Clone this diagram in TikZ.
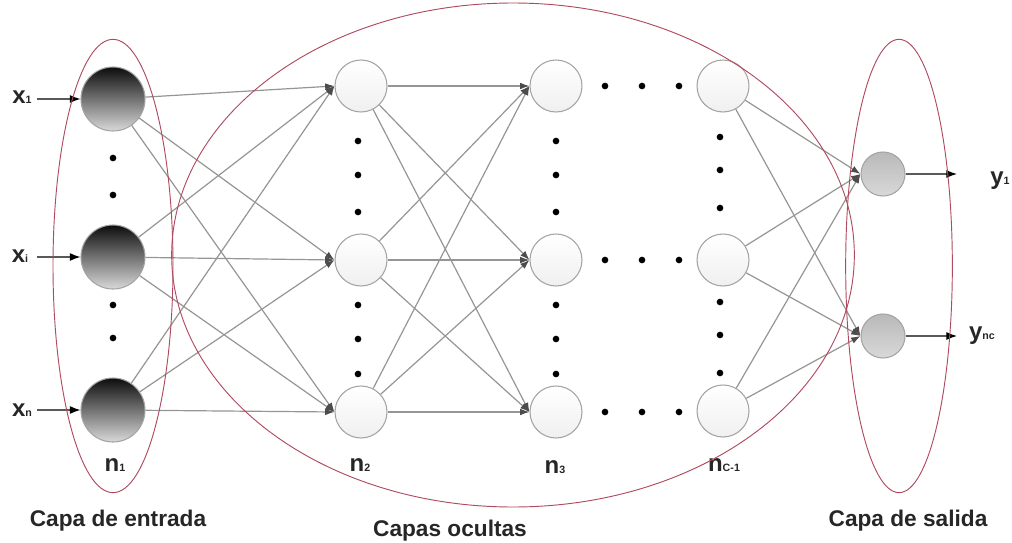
\documentclass[tikz,border=0pt]{standalone}
\usepackage{fontspec}
\setmainfont{Liberation Sans}
\usetikzlibrary{arrows.meta}
\definecolor{rim}{HTML}{B04A5E}
\definecolor{wire}{HTML}{959595}
\definecolor{ring}{HTML}{A4A4A4}
% bold symbol with a small subscript sitting on the baseline
\newcommand\sym[2]{\textbf{#1}{\fontsize{8}{8}\selectfont\textbf{#2}}}
\begin{document}
\begin{tikzpicture}[x=0.75pt,y=-0.75pt,
  inpnode/.style={circle,minimum size=48pt,inner sep=0pt,draw=ring,line width=0.8pt,
    top color=black!95,bottom color=gray!30},
  hidnode/.style={circle,minimum size=39pt,inner sep=0pt,draw=ring,line width=0.8pt,
    top color=white,bottom color=gray!12},
  outnode/.style={circle,minimum size=33pt,inner sep=0pt,draw=ring,line width=0.8pt,
    top color=gray!55,bottom color=gray!30},
  wire/.style={draw=wire,line width=0.9pt,-{Latex[length=7pt,width=5pt,color=black!70]}},
  feed/.style={draw=black!65,line width=0.9pt,-{Latex[length=8pt,width=6pt,color=black]}},
  dot/.style={circle,fill=black,inner sep=0pt,minimum size=5pt},
  group/.style={draw=rim,line width=0.7pt},
  txt/.style={font=\fontsize{17}{19}\selectfont\bfseries,text=black!85},
  sub/.style={font=\fontsize{18}{20}\selectfont,text=black!85}]
\useasboundingbox (0,0) rectangle (1012,542);

% input layer
\node[inpnode] (i1) at (113,99) {};
\node[inpnode] (i2) at (113,257) {};
\node[inpnode] (i3) at (113,410) {};
% hidden layers
\node[hidnode] (a1) at (361,86) {};
\node[hidnode] (a2) at (361,260) {};
\node[hidnode] (a3) at (361,412) {};
\node[hidnode] (b1) at (556,86) {};
\node[hidnode] (b2) at (556,260) {};
\node[hidnode] (b3) at (556,412) {};
\node[hidnode] (c1) at (723,86) {};
\node[hidnode] (c2) at (723,260) {};
\node[hidnode] (c3) at (723,411) {};
% output layer
\node[outnode] (o1) at (883,174) {};
\node[outnode] (o2) at (883,336) {};

% fully connected links
\foreach \s in {i1,i2,i3}{\foreach \t in {a1,a2,a3}{\draw[wire] (\s) -- (\t.west);}}
\foreach \s in {a1,a2,a3}{\foreach \t in {b1,b2,b3}{\draw[wire] (\s) -- (\t.west);}}
\foreach \s in {c1,c2,c3}{\foreach \t in {o1,o2}{\draw[wire] (\s) -- (\t.west);}}

% inputs and outputs
\coordinate (x1) at (37,99);
\coordinate (x2) at (37,257);
\coordinate (x3) at (37,410);
\coordinate (y1) at (957,174);
\coordinate (y2) at (957,336);
\draw[feed] (x1) -- (i1.west);
\draw[feed] (x2) -- (i2.west);
\draw[feed] (x3) -- (i3.west);
\draw[feed] (o1.east) -- (y1);
\draw[feed] (o2.east) -- (y2);

\node[sub] (lx1) at (22,97) {\sym{x}{1}};
\node[sub] (lx2) at (20,256) {\sym{x}{i}};
\node[sub] (lx3) at (22,410) {\sym{x}{n}};
\node[sub] (ly1) at (1000,181) {\sym{y}{1}};
\node[sub] (ly2) at (982,336) {\sym{y}{nc}};

% ellipsis dots
\foreach \y [count=\k] in {158,195,305,338}{\node[dot] (di\k) at (113,\y) {};}
\foreach \y [count=\k] in {141,175,212,305,339,374}{\node[dot] (da\k) at (358,\y) {};}
\foreach \y [count=\k] in {141,175,212,305,339,374}{\node[dot] (db\k) at (556,\y) {};}
\foreach \y [count=\k] in {137,170,208,302,335,373}{\node[dot] (dc\k) at (720,\y) {};}
\foreach \y [count=\r] in {86,260,412}{
  \foreach \x [count=\k] in {605,642,679}{\node[dot] (dh\r\k) at (\x,\y) {};}}

% layer sizes
\node[sub] (n1) at (115,465) {\sym{n}{1}};
\node[sub] (n2) at (360,465) {\sym{n}{2}};
\node[sub] (n3) at (555,467) {\sym{n}{3}};
\node[sub] (nc) at (724,465) {\sym{n}{C-1}};

% layer groups
\draw[group] (113,266) ellipse [x radius=45pt,y radius=170pt];
\draw[group] (513,255) ellipse [x radius=256pt,y radius=189pt];
\draw[group] (899,266) ellipse [x radius=40pt,y radius=170pt];

\node[txt] (l1) at (118,521) {Capa de entrada};
\node[txt] (l2) at (450,531) {Capas ocultas};
\node[txt] (l3) at (908,521) {Capa de salida};
\end{tikzpicture}
\end{document}
